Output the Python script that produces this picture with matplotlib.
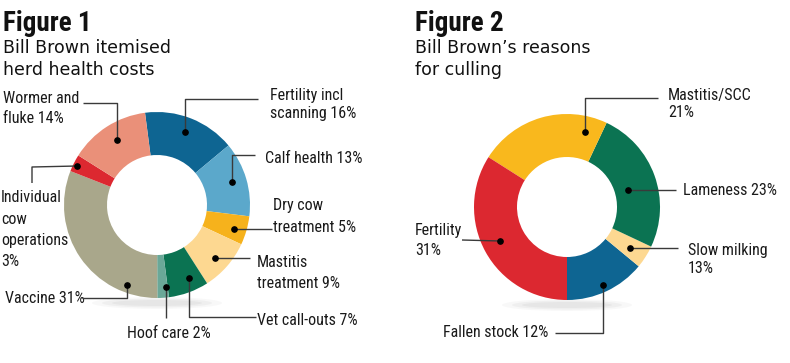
import matplotlib
matplotlib.use('Agg')
import matplotlib.pyplot as plt
from matplotlib import font_manager as fm
from matplotlib.patches import Ellipse

W, H = 790, 363

# Figure 1 - herd health costs (clockwise from top)
cost_names = ['Fertility incl scanning', 'Calf health', 'Dry cow treatment',
              'Mastitis treatment', 'Vet call-outs', 'Hoof care', 'Vaccine',
              'Individual cow operations', 'Wormer and fluke']
cost_pct = [16, 13, 5, 9, 7, 2, 31, 3, 14]
cost_colors = ['#0e6592', '#5ba8cb', '#f6b21c', '#fdd891', '#0b7352',
               '#6aa898', '#a9a78b', '#dc2830', '#ea9079']

# Figure 2 - culling reasons (anticlockwise from bottom)
cull_names = ['Fallen stock', 'Slow milking', 'Lameness', 'Mastitis/SCC', 'Fertility']
cull_pct = [12, 13, 23, 21, 31]          # printed on the chart
cull_share = [14, 4, 25, 23, 34]         # as the wedges are actually drawn
cull_colors = ['#0e6592', '#fdd891', '#0b7352', '#f9b81d', '#dc2830']


def narrow_font(bold=False):
    # look for a condensed face among the installed fonts
    prefs = ['RobotoCondensed', 'Roboto-Condensed', 'LiberationSansNarrow',
             'DejaVuSansCondensed', 'NotoSans-Condensed', 'OpenSans-Condensed']
    files = [f.fname for f in fm.fontManager.ttflist]
    for p in prefs:
        for fn in sorted(files):
            base = fn.split('/')[-1]
            if not base.startswith(p):
                continue
            stem = base.rsplit('.', 1)[0].lower()
            if 'italic' in stem or 'light' in stem or 'black' in stem or 'thin' in stem:
                continue
            if bold and stem.endswith('bold'):
                return fm.FontProperties(fname=fn)
            if not bold and ('bold' not in stem and 'medium' not in stem):
                return fm.FontProperties(fname=fn)
    return fm.FontProperties(family='Roboto', weight='bold' if bold else 'normal')


label_fp = narrow_font()
title_fp = narrow_font(bold=True)
sub_font = ['DejaVu Sans']
line_col = '#3a3a3a'

fig = plt.figure(figsize=(W / 100, H / 100), dpi=100)
ax = fig.add_axes([0, 0, 1, 1])


def Y(y):
    # pixel rows (top down) -> data y
    return H - y


def put_text(x, y, lines, size=11.5, gap=20):
    fp = label_fp.copy()
    fp.set_size(size)
    for i, s in enumerate(lines):
        ax.text(x, Y(y + i * gap), s, fontproperties=fp,
                va='baseline', ha='left', color='#1a1a1a')


def leader(pts):
    xs = [p[0] for p in pts]
    ys = [Y(p[1]) for p in pts]
    ax.plot(xs, ys, color=line_col, lw=1.0, solid_capstyle='butt', zorder=3)
    ax.plot(xs[0], ys[0], 'o', color='black', ms=3.8, zorder=4)


def shadow(cx, cy):
    for w, h, a in [(130, 12, 0.05), (110, 9, 0.07), (90, 6, 0.08)]:
        ax.add_patch(Ellipse((cx, Y(cy)), w, h, color='#808080', alpha=a, lw=0, zorder=0))


# donuts
shadow(157, 303)
ax.pie(cost_pct, colors=cost_colors, startangle=97.4, counterclock=False,
       radius=93, center=(157, Y(205)),
       wedgeprops=dict(width=43, linewidth=0))

shadow(567, 305)
ax.pie(cull_share, colors=cull_colors, startangle=-90, counterclock=True,
       radius=93, center=(567, Y(207)),
       wedgeprops=dict(width=43, linewidth=0))

# titles
tfp = title_fp.copy()
tfp.set_size(19.5)
ax.text(3, Y(31), 'Figure 1', fontproperties=tfp, va='baseline', color='#111111')
ax.text(3, Y(53), 'Bill Brown itemised', fontsize=12.5, family=sub_font, va='baseline', color='#111111')
ax.text(3, Y(75), 'herd health costs', fontsize=12.5, family=sub_font, va='baseline', color='#111111')

ax.text(415, Y(31), 'Figure 2', fontproperties=tfp, va='baseline', color='#111111')
ax.text(415, Y(53), 'Bill Brown\u2019s reasons', fontsize=12.5, family=sub_font, va='baseline', color='#111111')
ax.text(415, Y(75), 'for culling', fontsize=12.5, family=sub_font, va='baseline', color='#111111')

# figure 1 labels
put_text(3, 103, ['Wormer and', 'fluke %d%%' % cost_pct[8]])
leader([(117, 140), (117, 103), (83, 103)])

put_text(270, 100, ['Fertility incl', 'scanning %d%%' % cost_pct[0]], gap=18)
leader([(185, 132), (185, 99), (258, 99)])

put_text(265, 163, ['Calf health %d%%' % cost_pct[1]])
leader([(232, 182), (232, 155), (255, 155)])

put_text(1, 202, ['Individual', 'cow', 'operations', '%d%%' % cost_pct[7]], gap=21.5)
leader([(77, 166), (32, 167), (32, 183)])

put_text(273, 210, ['Dry cow', 'treatment %d%%' % cost_pct[2]], gap=22)
leader([(234, 229), (272, 229)])

put_text(257, 267, ['Mastitis', 'treatment %d%%' % cost_pct[3]], gap=21)
leader([(215, 258), (250, 258)])

put_text(257, 325, ['Vet call-outs %d%%' % cost_pct[4]])
leader([(189, 278), (189, 317), (256, 317)])

put_text(127, 338, ['Hoof care %d%%' % cost_pct[5]])
leader([(166, 287), (166, 318)])

put_text(5, 303, ['Vaccine %d%%' % cost_pct[6]])
leader([(127, 285), (127, 298), (82, 298)])

# figure 2 labels
put_text(668, 100, ['Mastitis/SCC', '%d%%' % cull_pct[3]], gap=17)
leader([(585, 132), (585, 98), (658, 98)])

put_text(683, 195, ['Lameness %d%%' % cull_pct[2]])
leader([(628, 190), (676, 190)])

put_text(688, 255, ['Slow milking', '%d%%' % cull_pct[1]], gap=18)
leader([(630, 248), (678, 248)])

put_text(415, 235, ['Fertility', '%d%%' % cull_pct[4]])
leader([(500, 241), (462, 240)])

put_text(443, 337, ['Fallen stock %d%%' % cull_pct[0]])
leader([(603, 285), (603, 333), (555, 333)])

ax.set_xlim(0, W)
ax.set_ylim(0, H)
ax.set_aspect('equal')
ax.axis('off')

fig.savefig('out.png', dpi=100, facecolor='white')
